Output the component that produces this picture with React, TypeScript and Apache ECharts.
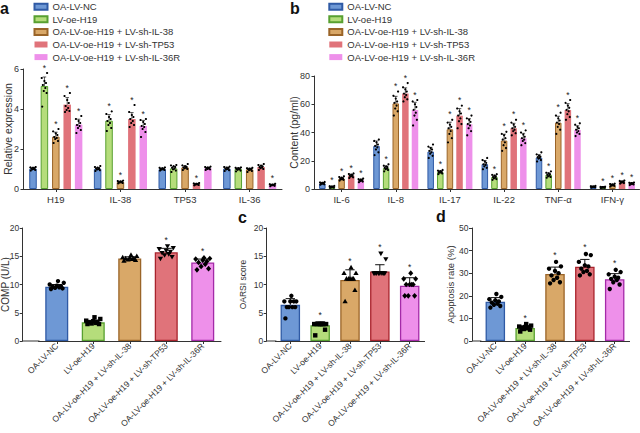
import React, { useEffect, useRef } from "react";
import * as echarts from "echarts";

// ---------- data ----------
const groups = [
  "OA-LV-NC",
  "LV-oe-H19",
  "OA-LV-oe-H19 + LV-sh-IL-38",
  "OA-LV-oe-H19 + LV-sh-TP53",
  "OA-LV-oe-H19 + LV-sh-IL-36R",
];
const genes = ["H19", "IL-38", "TP53", "IL-36"];
const cytokines = ["IL-6", "IL-8", "IL-17", "IL-22", "TNF-α", "IFN-γ"];

// panel a: relative expression, [group][gene]
const exprMean = [
  [1.02, 1.01, 0.99, 1.02],
  [5.15, 3.42, 1.03, 1.0],
  [2.62, 0.35, 1.08, 0.98],
  [4.22, 3.5, 0.24, 1.1],
  [3.22, 3.15, 1.03, 0.2],
];
const exprSd = [
  [0.06, 0.07, 0.05, 0.07],
  [0.45, 0.3, 0.1, 0.06],
  [0.22, 0.04, 0.08, 0.06],
  [0.35, 0.32, 0.04, 0.09],
  [0.27, 0.28, 0.05, 0.04],
];
const exprStar = [
  [0, 0, 0, 0],
  [1, 1, 0, 0],
  [1, 1, 0, 0],
  [1, 1, 1, 0],
  [1, 1, 0, 1],
];
const exprDots = [
  [
    [0.92, 0.95, 0.98, 1.0, 1.02, 1.04, 1.06, 1.08, 1.1],
    [0.9, 0.94, 0.97, 1.0, 1.02, 1.04, 1.07, 1.1, 1.15],
    [0.92, 0.95, 0.97, 0.99, 1.0, 1.02, 1.04, 1.06, 1.08],
    [0.9, 0.94, 0.98, 1.0, 1.02, 1.05, 1.07, 1.1, 1.12],
  ],
  [
    [4.12, 4.8, 4.9, 5.05, 5.2, 5.3, 5.4, 5.55, 5.8],
    [2.9, 3.05, 3.2, 3.3, 3.4, 3.5, 3.6, 3.75, 3.88],
    [0.85, 0.92, 0.98, 1.02, 1.06, 1.1, 1.14, 1.18, 1.2],
    [0.88, 0.92, 0.96, 0.99, 1.0, 1.02, 1.04, 1.06, 1.08],
  ],
  [
    [2.3, 2.4, 2.5, 2.55, 2.6, 2.7, 2.78, 2.88, 3.0],
    [0.28, 0.3, 0.32, 0.34, 0.35, 0.36, 0.38, 0.4, 0.42],
    [0.95, 1.0, 1.03, 1.06, 1.08, 1.1, 1.14, 1.18, 1.25],
    [0.85, 0.9, 0.94, 0.97, 0.99, 1.0, 1.02, 1.04, 1.06],
  ],
  [
    [3.85, 3.9, 3.95, 4.05, 4.15, 4.3, 4.45, 4.65, 4.8],
    [3.1, 3.2, 3.3, 3.4, 3.5, 3.6, 3.7, 3.85, 4.2],
    [0.18, 0.2, 0.22, 0.23, 0.24, 0.25, 0.26, 0.28, 0.3],
    [0.95, 1.0, 1.04, 1.07, 1.1, 1.13, 1.16, 1.2, 1.25],
  ],
  [
    [2.8, 2.95, 3.05, 3.15, 3.2, 3.3, 3.4, 3.5, 3.65],
    [2.6, 2.85, 3.0, 3.1, 3.15, 3.25, 3.35, 3.45, 3.5],
    [0.95, 0.98, 1.0, 1.02, 1.04, 1.06, 1.08, 1.1, 1.12],
    [0.14, 0.16, 0.18, 0.19, 0.2, 0.21, 0.22, 0.24, 0.26],
  ],
];

// panel b: content (pg/ml), [group][cytokine]
const cytMean = [
  [4.0, 30.5, 26.5, 17.6, 22.3, 1.6],
  [1.5, 14.8, 12.0, 8.5, 10.1, 1.2],
  [7.3, 60.6, 42.3, 34.3, 47.0, 2.8],
  [9.4, 67.6, 51.9, 43.0, 55.9, 4.9],
  [6.1, 55.9, 45.8, 35.9, 41.8, 3.8],
];
const cytSd = [
  [0.6, 3.5, 3.0, 2.5, 2.0, 0.4],
  [0.4, 1.5, 0.9, 1.3, 1.3, 0.3],
  [0.9, 5.0, 5.0, 4.5, 4.5, 0.6],
  [1.0, 4.0, 5.0, 3.5, 4.5, 0.7],
  [0.8, 5.5, 4.0, 3.5, 3.0, 0.6],
];
const cytStar = [
  [0, 0, 0, 0, 0, 0],
  [1, 1, 1, 1, 1, 1],
  [1, 1, 1, 1, 1, 1],
  [1, 1, 1, 1, 1, 1],
  [1, 1, 1, 1, 1, 1],
];
const cytDots = [
  [
    [3.0, 3.3, 3.6, 3.8, 4.0, 4.2, 4.4, 4.7, 5.0],
    [24, 26, 28, 29.5, 30.5, 31.5, 33, 34, 35],
    [22, 23.5, 25, 26, 27, 28, 29, 30, 31.5],
    [14, 15, 16, 17, 17.5, 18.5, 19.5, 20.5, 22],
    [19.5, 20.5, 21.5, 22, 22.5, 23, 23.5, 24.5, 26],
    [1.0, 1.2, 1.4, 1.5, 1.6, 1.7, 1.8, 2.0, 2.2],
  ],
  [
    [0.8, 1.0, 1.2, 1.4, 1.5, 1.6, 1.8, 2.0, 2.2],
    [12.5, 13.5, 14, 14.5, 15, 15.5, 16, 16.5, 17.5],
    [10.5, 11, 11.5, 11.8, 12, 12.3, 12.6, 13, 13.5],
    [6.5, 7, 7.5, 8, 8.5, 9, 9.5, 10, 10.5],
    [8, 8.5, 9, 9.5, 10, 10.5, 11, 11.5, 12.5],
    [0.7, 0.9, 1.0, 1.1, 1.2, 1.3, 1.4, 1.5, 1.7],
  ],
  [
    [6, 6.5, 6.8, 7, 7.3, 7.6, 8, 8.5, 9],
    [52, 55, 57, 59, 61, 62, 64, 66, 69],
    [33, 36, 39, 41, 43, 44, 45.5, 47, 49],
    [27, 29, 31, 33, 35, 36, 38, 39, 40.5],
    [39, 42, 44, 46, 47, 48.5, 50, 52, 54],
    [1.8, 2.2, 2.5, 2.7, 2.9, 3.0, 3.2, 3.5, 3.8],
  ],
  [
    [7.8, 8.3, 8.8, 9.2, 9.5, 9.8, 10.2, 10.6, 11],
    [62, 63.5, 65, 66.5, 67.5, 69, 70.5, 72, 75],
    [43, 46, 48, 50, 52, 53.5, 55, 57, 59],
    [38, 39.5, 41, 42, 43, 44, 45.5, 47, 49],
    [49, 51, 53, 55, 56, 57.5, 59, 61, 63],
    [3.8, 4.2, 4.5, 4.8, 5.0, 5.2, 5.4, 5.7, 6.0],
  ],
  [
    [4.8, 5.3, 5.6, 5.9, 6.1, 6.4, 6.7, 7.0, 7.4],
    [45, 49, 52, 54, 56, 58, 60, 62, 63],
    [38, 41, 43, 45, 46, 47.5, 49, 50, 52],
    [31, 32.5, 34, 35, 36, 37, 38.5, 40, 41.5],
    [37.5, 39, 40, 41, 42, 43, 44, 45.5, 46.5],
    [2.8, 3.2, 3.5, 3.7, 3.8, 4.0, 4.2, 4.4, 4.6],
  ],
];

// panel COMP (U/L)
const compMean = [9.6, 3.3, 14.6, 15.7, 13.9];
const compSd = [0.4, 0.35, 0.3, 0.7, 0.6];
const compStar = [0, 0, 0, 1, 1];
const compDots = [
  [9.2, 9.3, 9.4, 9.5, 9.6, 9.7, 9.8, 10.0, 10.3, 10.6],
  [3.0, 3.0, 3.1, 3.2, 3.3, 3.4, 3.5, 3.6, 3.9, 4.2],
  [14.2, 14.3, 14.4, 14.5, 14.6, 14.6, 14.7, 14.8, 15.0, 15.2],
  [14.6, 14.9, 15.2, 15.4, 15.6, 15.8, 16.0, 16.3, 16.5, 16.8],
  [12.6, 12.8, 13.2, 13.6, 13.9, 14.1, 14.3, 14.5, 14.6, 14.7],
];

// panel c: OARSI score
const oarsiMean = [6.4, 2.8, 10.8, 12.3, 9.8];
const oarsiSd = [1.1, 0.6, 1.8, 1.2, 1.4];
const oarsiStar = [0, 1, 1, 1, 1];
const oarsiDots = [
  [4, 6, 6, 6, 6, 7, 7, 7, 7, 8],
  [1, 2, 3, 3, 3, 3, 3, 3, 3, 3],
  [7, 9, 11, 11, 11, 11, 11, 12, 12, 13],
  [12, 12, 12, 12, 12, 12, 12, 12, 14.5, 15.5],
  [8, 8, 8, 10, 10, 10, 10, 11, 11, 12],
];

// panel d: apoptosis rate (%)
const apopMean = [17.4, 5.8, 29.7, 32.9, 27.3];
const apopSd = [1.8, 0.9, 3.0, 3.2, 2.5];
const apopStar = [0, 1, 1, 1, 1];
const apopDots = [
  [14.8, 15.5, 16, 16.5, 17, 17.5, 18, 18.5, 19.5, 20.8],
  [4.2, 5.0, 5.3, 5.6, 5.8, 6.0, 6.2, 6.4, 6.8, 7.5],
  [25.5, 26, 27, 28, 29, 30, 31, 32, 33, 35],
  [29, 29.5, 30.5, 31, 32, 33, 33.5, 35, 38, 38.5],
  [23, 25, 26, 27, 27.5, 28, 28.5, 29.5, 30.5, 31.5],
];

// ---------- styles / layout ----------
const FONT = "'Liberation Sans', Arial, Helvetica, sans-serif";
const TXT = "#333";
const AX = "#333";
const FILL = ["#6e98d5", "#b5dd7b", "#d9a868", "#e0737a", "#ee90ea"];
const EDGE = ["#2f5aa5", "#58a031", "#9a6428", "#a8232c", "#a42aa8"];
const TOP_EDGE_W = [1, 1, 1, 0, 0];
const SHAPES_CO = ["circle", "square", "tri", "itri", "diamond"];
const SHAPES_D = ["circle", "square", "circle", "circle", "circle"];
const JIT = [-0.7, 0.7, -0.2, 0.3, -0.5, 0.5, 0, -0.85, 0.85, 0.15];

const LA = { left: 23.5, top: 69, width: 258.5, height: 120 };
const LB = { left: 314.5, top: 76, width: 325, height: 113 };
const LC = { axis: 22.7, left: 38.5, top: 228, width: 182.5, height: 113 };
const LO = { axis: 266.7, left: 275.4, top: 228, width: 149.2, height: 113 };
const LD = { axis: 472, left: 480.4, top: 228, width: 149.2, height: 113 };

function groupedRender(dots: number[][], sd: number[], star: number[], pos: number, bw: number, gapRatio: number) {
  return (params: any, api: any) => {
    const k = params.dataIndex;
    const cat = api.value(0);
    const m = api.value(1);
    const step = bw * (1 + gapRatio);
    const xc = api.coord([cat, 0])[0] + (pos - 2) * step;
    const yM = api.coord([cat, m])[1];
    const yS = api.coord([cat, m + sd[k]])[1];
    const ink = "#111";
    const ch: any[] = [
      { type: "line", shape: { x1: xc, y1: yM, x2: xc, y2: yS }, style: { stroke: ink, lineWidth: 0.7 } },
      { type: "line", shape: { x1: xc - 1.8, y1: yS, x2: xc + 1.8, y2: yS }, style: { stroke: ink, lineWidth: 0.7 } },
    ];
    dots[k].forEach((v, j) => {
      ch.push({
        type: "circle",
        shape: { cx: xc + JIT[j] * bw * 0.42, cy: api.coord([cat, v])[1], r: 1.1 },
        style: { fill: "#000" },
      });
    });
    if (star[k]) {
      const hi = Math.max(m + sd[k], ...dots[k]);
      const y = api.coord([cat, hi])[1];
      ch.push({
        type: "text",
        style: { text: "*", x: xc, y: y - 1, align: "center", verticalAlign: "bottom", fontSize: 8.5, fill: "#222", fontFamily: FONT },
      });
    }
    return { type: "group", children: ch };
  };
}

function sym(kind: string, x: number, y: number, r: number) {
  const style = { fill: "#000" };
  if (kind === "square") return { type: "rect", shape: { x: x - r, y: y - r, width: 2 * r, height: 2 * r }, style };
  if (kind === "tri")
    return { type: "polygon", shape: { points: [[x, y - r * 1.25], [x + r * 1.2, y + r * 0.85], [x - r * 1.2, y + r * 0.85]] }, style };
  if (kind === "itri")
    return { type: "polygon", shape: { points: [[x, y + r * 1.25], [x + r * 1.2, y - r * 0.85], [x - r * 1.2, y - r * 0.85]] }, style };
  if (kind === "diamond")
    return { type: "polygon", shape: { points: [[x, y - r * 1.3], [x + r * 1.15, y], [x, y + r * 1.3], [x - r * 1.15, y]] }, style };
  return { type: "circle", shape: { cx: x, cy: y, r }, style };
}

function singleRender(dots: number[][], sd: number[], star: number[], shapes: string[], bw: number) {
  return (params: any, api: any) => {
    const k = params.dataIndex;
    const cat = api.value(0);
    const m = api.value(1);
    const xc = api.coord([cat, 0])[0];
    const yM = api.coord([cat, m])[1];
    const yS = api.coord([cat, m + sd[k]])[1];
    const ink = "#111";
    const cw = bw * 0.24;
    const ch: any[] = [
      { type: "line", shape: { x1: xc, y1: yM, x2: xc, y2: yS }, style: { stroke: ink, lineWidth: 1 } },
      { type: "line", shape: { x1: xc - cw, y1: yS, x2: xc + cw, y2: yS }, style: { stroke: ink, lineWidth: 1 } },
    ];
    dots[k].forEach((v, j) => {
      ch.push(sym(shapes[k], xc + JIT[j] * bw * 0.36, api.coord([cat, v])[1], 2.2));
    });
    if (star[k]) {
      const hi = Math.max(m + sd[k], ...dots[k]);
      const y = api.coord([cat, hi])[1];
      ch.push({
        type: "text",
        style: { text: "*", x: xc, y: y - 2, align: "center", verticalAlign: "bottom", fontSize: 8.5, fill: "#222", fontFamily: FONT },
      });
    }
    return { type: "group", children: ch };
  };
}

function yAxisBase(
  min: number,
  max: number,
  interval: number,
  name: string,
  gap: number,
  nameSize: number,
  offset = 0,
  labelSize = 9,
  labelMargin = 4.5
) {
  return {
    type: "value",
    min,
    max,
    interval,
    offset,
    name,
    nameLocation: "middle",
    nameGap: gap,
    nameMoveOverlap: false,
    nameTextStyle: { fontSize: nameSize, lineHeight: nameSize + 0.5, color: TXT, fontFamily: FONT },
    axisLine: { show: true, lineStyle: { color: AX, width: 1 } },
    axisTick: { show: true, length: 3, lineStyle: { color: AX } },
    axisLabel: { fontSize: labelSize, color: TXT, fontFamily: FONT, margin: labelMargin },
    splitLine: { show: false },
  };
}

function catAxis(data: string[], rotate = 0, fontSize = 9.5, margin = 5) {
  return {
    type: "category",
    data,
    axisLine: { lineStyle: { color: AX, width: 1 } },
    axisTick: { show: true, alignWithLabel: true, length: 3, lineStyle: { color: AX } },
    axisLabel: { interval: 0, rotate, fontSize, color: TXT, fontFamily: FONT, margin },
  };
}

export default function App() {
  const ref = useRef<HTMLDivElement>(null);
  useEffect(() => {
    if (!ref.current) return;
    const chart = echarts.init(ref.current, undefined, { renderer: "svg" });

    const series: any[] = [];
    // panel a
    groups.forEach((g, i) => {
      series.push({
        type: "bar",
        name: g,
        xAxisIndex: 0,
        yAxisIndex: 0,
        barWidth: 7.5,
        barGap: "52%",
        data: exprMean[i],
        itemStyle: { color: FILL[i], borderColor: EDGE[i], borderWidth: TOP_EDGE_W[i] },
      });
    });
    groups.forEach((g, i) => {
      series.push({
        type: "custom",
        xAxisIndex: 0,
        yAxisIndex: 0,
        z: 5,
        data: genes.map((_, k) => [k, exprMean[i][k]]),
        renderItem: groupedRender(exprDots[i], exprSd[i], exprStar[i], i, 7.5, 0.52),
      });
    });
    // panel b
    groups.forEach((g, i) => {
      series.push({
        type: "bar",
        name: g,
        xAxisIndex: 1,
        yAxisIndex: 1,
        barWidth: 6.5,
        barGap: "48%",
        data: cytMean[i],
        itemStyle: { color: FILL[i], borderColor: EDGE[i], borderWidth: TOP_EDGE_W[i] },
      });
    });
    groups.forEach((g, i) => {
      series.push({
        type: "custom",
        xAxisIndex: 1,
        yAxisIndex: 1,
        z: 5,
        data: cytokines.map((_, k) => [k, cytMean[i][k]]),
        renderItem: groupedRender(cytDots[i], cytSd[i], cytStar[i], i, 6.5, 0.48),
      });
    });
    // bottom panels
    const bottoms = [
      { mean: compMean, sd: compSd, star: compStar, dots: compDots, bw: 23, shapes: SHAPES_CO },
      { mean: oarsiMean, sd: oarsiSd, star: oarsiStar, dots: oarsiDots, bw: 19.5, shapes: SHAPES_CO },
      { mean: apopMean, sd: apopSd, star: apopStar, dots: apopDots, bw: 19.5, shapes: SHAPES_D },
    ];
    bottoms.forEach((b, p) => {
      series.push({
        type: "bar",
        xAxisIndex: 2 + p,
        yAxisIndex: 2 + p,
        barWidth: b.bw,
        data: b.mean.map((v, i) => ({
          value: v,
          itemStyle: { color: FILL[i], borderColor: EDGE[i], borderWidth: 1.3 },
        })),
      });
      series.push({
        type: "custom",
        xAxisIndex: 2 + p,
        yAxisIndex: 2 + p,
        z: 5,
        data: b.mean.map((v, i) => [i, v]),
        renderItem: singleRender(b.dots, b.sd, b.star, b.shapes, b.bw),
      });
    });

    const legendBase = {
      data: groups,
      orient: "vertical",
      top: 0.7,
      itemWidth: 13,
      itemHeight: 6,
      itemGap: 0.6,
      padding: 0,
      icon: "rect",
      selectedMode: false,
      textStyle: { fontSize: 9.5, lineHeight: 12, color: TXT, fontFamily: FONT },
    };

    const letter = (t: string, x: number, y: number) => ({
      type: "text",
      left: x,
      top: y,
      style: { text: t, fontSize: 16, fontWeight: "bold", fill: "#111", fontFamily: FONT },
    });
    const axisGapLine = (L: any) => ({
      type: "line",
      shape: { x1: L.axis, y1: L.top + L.height, x2: L.left + 1, y2: L.top + L.height },
      style: { stroke: AX, lineWidth: 1 },
      z: 10,
    });

    chart.setOption({
      animation: false,
      backgroundColor: "#fff",
      legend: [
        { ...legendBase, left: 33.5 },
        { ...legendBase, left: 328.3 },
      ],
      grid: [LA, LB, LC, LO, LD].map((L) => ({
        left: L.left,
        top: L.top,
        width: L.width,
        height: L.height,
        containLabel: false,
        outerBoundsMode: "none",
      })),
      xAxis: [
        { ...catAxis(genes), gridIndex: 0 },
        { ...catAxis(cytokines), gridIndex: 1 },
        { ...catAxis(groups, 45, 8.5, 3.5), gridIndex: 2 },
        { ...catAxis(groups, 45, 8.5, 3.5), gridIndex: 3 },
        { ...catAxis(groups, 45, 8.5, 3.5), gridIndex: 4 },
      ],
      yAxis: [
        { ...yAxisBase(0, 6, 2, "Relative expression", 10, 10.5), gridIndex: 0 },
        { ...yAxisBase(0, 80, 20, "Content (pg/ml)", 15.5, 10.5), gridIndex: 1 },
        { ...yAxisBase(0, 20, 5, "COMP (U/L)", 12, 10, LC.left - LC.axis, 8.5, 3.5), gridIndex: 2 },
        { ...yAxisBase(0, 20, 5, "OARSI score", 19, 8.5, LO.left - LO.axis, 8.5, 3.5), gridIndex: 3 },
        { ...yAxisBase(0, 50, 10, "Apoptosis rate (%)", 16.5, 9.5, LD.left - LD.axis, 8.5, 3.5), gridIndex: 4 },
      ],
      graphic: [
        letter("a", 0, 0),
        letter("b", 290, 0),
        letter("c", 238, 209),
        letter("d", 436, 208),
        axisGapLine(LC),
        axisGapLine(LO),
        axisGapLine(LD),
      ],
      series,
    });
    return () => chart.dispose();
  }, []);
  return (
    <div
      ref={ref}
      style={{ position: "fixed", left: 0, top: 0, width: 640, height: 433, background: "#fff" }}
    />
  );
}
